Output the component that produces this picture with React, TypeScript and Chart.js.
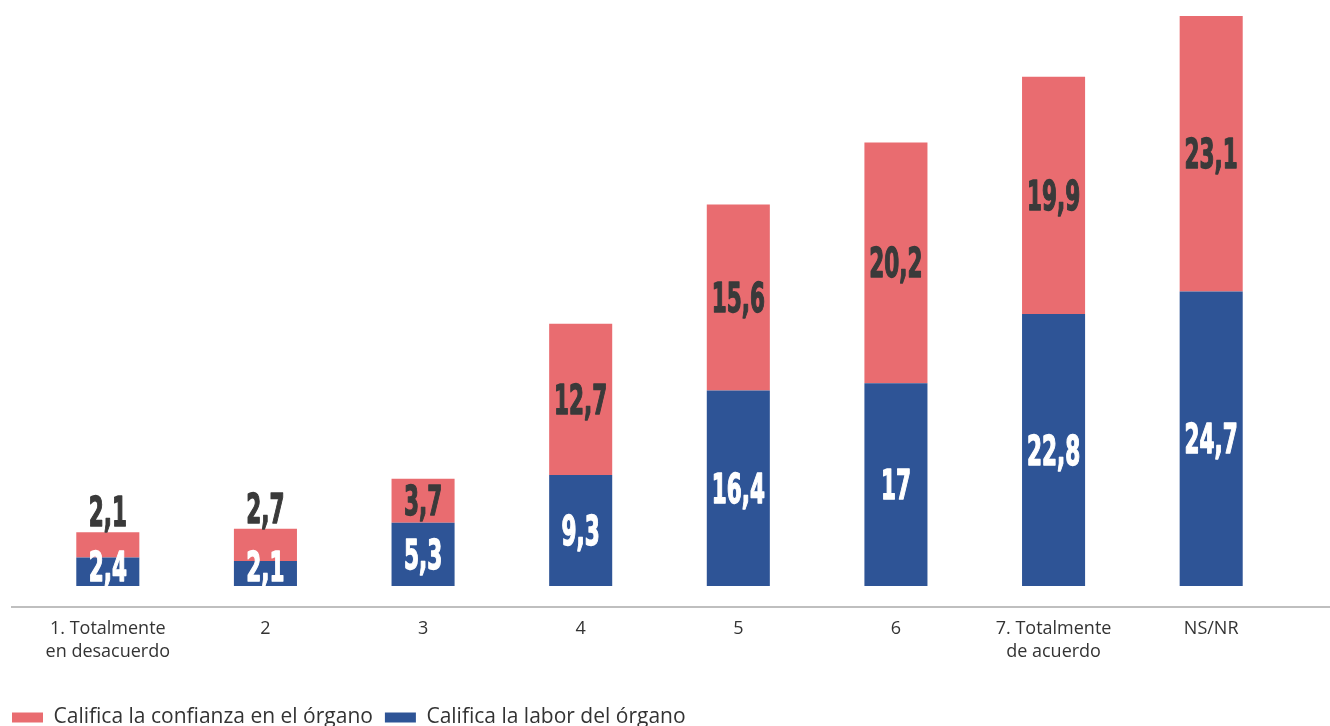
import React, { useEffect, useRef } from 'react';
import { Chart, registerables } from 'chart.js';

Chart.register(...registerables);

const categories: (string | string[])[] = [
  ['1. Totalmente', 'en desacuerdo'],
  '2',
  '3',
  '4',
  '5',
  '6',
  ['7. Totalmente', 'de acuerdo'],
  'NS/NR',
];
const labor = [2.4, 2.1, 5.3, 9.3, 16.4, 17, 22.8, 24.7];
const confianza = [2.1, 2.7, 3.7, 12.7, 15.6, 20.2, 19.9, 23.1];
const laborName = 'Califica la labor del órgano';
const confianzaName = 'Califica la confianza en el órgano';

const BLUE = '#2E5496';
const RED = '#E96C70';
const DARK = '#3A3A3A';
const Y_MIN = -1.76;
const Y_MAX = 48.3;
const CANVAS_H = 738;
const AXIS_Y = 607;
const LEFT_GUTTER = 29;

const labelPlugin = {
  id: 'barLabels',
  afterDatasetsDraw(chart: any) {
    const ctx = chart.ctx as CanvasRenderingContext2D;
    ctx.save();
    ctx.textAlign = 'center';
    ctx.textBaseline = 'alphabetic';
    ctx.font = 'bold 32px "Liberation Sans Narrow", "DejaVu Sans Condensed", "Liberation Sans", sans-serif';
    const m = ctx.measureText('0');
    const capH = m.actualBoundingBoxAscent > 5 ? m.actualBoundingBoxAscent : 23;
    const sx = 15 / m.width;
    const targetCap = 29;
    const sy = targetCap / capH;
    const half = targetCap / 2;
    chart.data.datasets.forEach((ds: any, di: number) => {
      const meta = chart.getDatasetMeta(di);
      meta.data.forEach((bar: any, i: number) => {
        const v = ds.data[i];
        const { x, y, base } = bar.getProps(['x', 'y', 'base'], true);
        const h = base - y;
        const text = String(v).replace('.', ',');
        let cy: number;
        let color: string;
        if (di === 0) {
          color = '#FFFFFF';
          cy = Math.min((y + base) / 2, base - 5 - half);
        } else {
          color = DARK;
          cy = h < 40 ? y - 6 - half : (y + base) / 2;
        }
        ctx.save();
        ctx.translate(x, cy + half);
        ctx.scale(sx, sy);
        ctx.fillStyle = color;
        ctx.strokeStyle = color;
        ctx.lineWidth = 1.1;
        ctx.lineJoin = 'round';
        ctx.textAlign = 'center';
        ctx.textBaseline = 'alphabetic';
        ctx.fillText(text, 0, 0);
        ctx.strokeText(text, 0, 0);
        ctx.restore();
      });
    });
    ctx.restore();
  },
};

const axisLinePlugin = {
  id: 'axisLine',
  afterDatasetsDraw(chart: any) {
    const ctx = chart.ctx as CanvasRenderingContext2D;
    const yPix = chart.scales.y.getPixelForValue(Y_MIN);
    ctx.save();
    ctx.strokeStyle = '#BFBFBF';
    ctx.lineWidth = 2;
    ctx.beginPath();
    ctx.moveTo(11, yPix);
    ctx.lineTo(chart.width, yPix);
    ctx.stroke();
    ctx.restore();
  },
};

export default function App() {
  const ref = useRef<HTMLCanvasElement>(null);

  useEffect(() => {
    if (!ref.current) return;
    const chart = new Chart(ref.current, {
      type: 'bar',
      data: {
        labels: categories as any,
        datasets: [
          {
            label: laborName,
            data: labor,
            backgroundColor: BLUE,
            barPercentage: 0.4,
            categoryPercentage: 1,
          },
          {
            label: confianzaName,
            data: confianza,
            backgroundColor: RED,
            barPercentage: 0.4,
            categoryPercentage: 1,
          },
        ],
      },
      options: {
        animation: false,
        responsive: false,
        layout: { padding: { top: 10, left: 0, right: 40, bottom: 0 } },
        plugins: {
          legend: {
            position: 'bottom',
            align: 'start',
            reverse: true,
            labels: {
              boxWidth: 31,
              boxHeight: 10,
              padding: 12,
              color: '#333333',
              font: { family: '"Open Sans", sans-serif', size: 21 },
            },
          },
          tooltip: { enabled: false },
        },
        scales: {
          x: {
            stacked: true,
            grid: { display: false, drawTicks: false },
            border: { display: false },
            ticks: {
              color: '#333333',
              padding: 10,
              maxRotation: 0,
              autoSkip: false,
              font: { family: '"Open Sans", sans-serif', size: 18, lineHeight: 1.3 },
            },
            afterFit(scale: any) {
              const ch = scale.chart;
              const lh = ch.legend ? ch.legend.height : 0;
              scale.height = ch.height - lh - AXIS_Y;
            },
          },
          y: {
            stacked: true,
            display: true,
            min: Y_MIN,
            max: Y_MAX,
            grid: { display: false, drawTicks: false },
            border: { display: false },
            ticks: { display: false },
            afterFit(scale: any) {
              scale.width = LEFT_GUTTER;
            },
          },
        },
      },
      plugins: [axisLinePlugin, labelPlugin],
    });
    return () => chart.destroy();
  }, []);

  return (
    <div
      style={{
        position: 'absolute',
        left: 0,
        top: 0,
        width: 1330,
        height: 726,
        overflow: 'hidden',
        background: '#FFFFFF',
      }}
    >
      <canvas ref={ref} width={1330} height={CANVAS_H} style={{ display: 'block' }} />
    </div>
  );
}
